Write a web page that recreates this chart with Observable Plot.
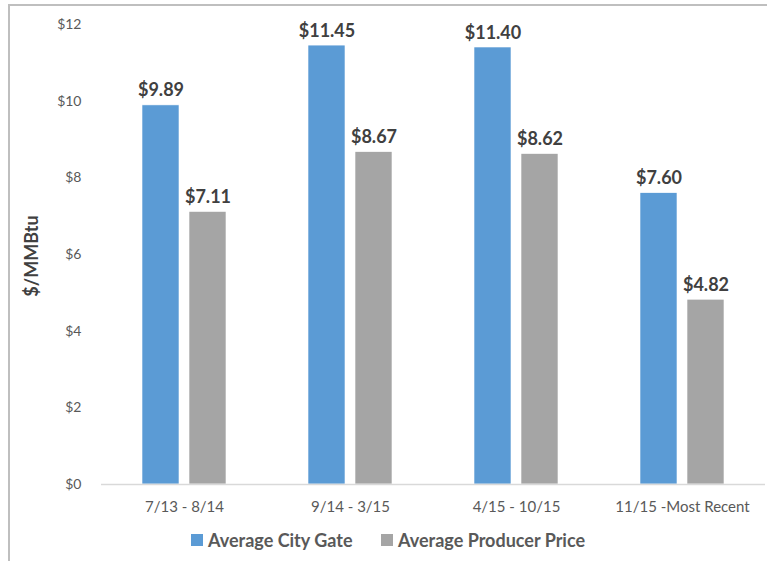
<!DOCTYPE html>
<html>
<head>
<meta charset="utf-8">
<script src="https://cdn.jsdelivr.net/npm/d3@7"></script>
<script src="https://cdn.jsdelivr.net/npm/@observablehq/plot@0.6"></script>
<style>
  html, body { margin: 0; padding: 0; background: #fff; }
  body { width: 767px; height: 561px; position: relative; overflow: hidden; font-family: Lato, "Liberation Sans", sans-serif; }
  #frame { position: absolute; left: 8px; top: 4px; width: 800px; height: 600px; border-left: 2px solid #bfbfbf; border-top: 2px solid #bfbfbf; pointer-events: none; }
  #chart { position: absolute; left: 0; top: 0; }
  #ylabel { position: absolute; left: 31px; top: 256px; transform: translate(-50%, -50%) rotate(-90deg); font-weight: bold; font-size: 18px; color: #404040; white-space: nowrap; }
  #legend { position: absolute; left: 0; top: 525px; width: 767px; height: 36px; }
  .item { position: absolute; top: 4px; display: flex; align-items: center; font-weight: bold; font-size: 18px; color: #595959; }
  .sw { width: 12px; height: 12px; margin-right: 5px; }
</style>
</head>
<body>
<div id="chart"></div>
<div id="ylabel">$/MMBtu</div>
<div id="legend"></div>
<div id="frame"></div>
<script>
const categories = ["7/13 - 8/14", "9/14 - 3/15", "4/15 - 10/15", "11/15 -Most Recent"];
const seriesNames = ["Average City Gate", "Average Producer Price"];
const cityGate = [9.89, 11.45, 11.40, 7.60];
const producerPrice = [7.11, 8.67, 8.62, 4.82];
const yTicks = [0, 2, 4, 6, 8, 10, 12];
const colors = ["#5b9bd5", "#a5a5a5"];

const data = [];
categories.forEach((c, i) => {
  data.push({category: c, series: seriesNames[0], value: cityGate[i]});
  data.push({category: c, series: seriesNames[1], value: producerPrice[i]});
});

const chart = Plot.plot({
  width: 767,
  height: 525,
  marginLeft: 100,
  marginRight: 2,
  marginTop: 24,
  marginBottom: 41,
  style: {fontFamily: "Lato, 'Liberation Sans', sans-serif", background: "transparent"},
  fx: {domain: categories, padding: 0, label: null},
  x: {domain: seriesNames, paddingInner: 0.213, paddingOuter: 0.872, axis: null},
  y: {domain: [0, 12], ticks: yTicks, label: null},
  color: {domain: seriesNames, range: colors},
  marks: [
    Plot.axisY({ticks: yTicks, tickSize: 0, tickPadding: 20, tickFormat: d => "$" + d, fontSize: 14, fill: "#595959", label: null}),
    Plot.axisFx({anchor: "bottom", tickSize: 0, tickPadding: 17, fontSize: 15, fill: "#595959", label: null}),
    Plot.barY(data, {fx: "category", x: "series", y: "value", fill: "series", stroke: "#ffffff", strokeWidth: 0.6}),
    Plot.ruleY([0], {stroke: "#d9d9d9", strokeWidth: 1.5}),
    Plot.text(data, {fx: "category", x: "series", y: "value", text: d => "$" + d.value.toFixed(2), lineAnchor: "bottom", dy: -9, fontWeight: "bold", fontSize: 18, fill: "#404040"})
  ]
});
document.getElementById("chart").appendChild(chart);

const legend = document.getElementById("legend");
const lefts = [191, 381];
seriesNames.forEach((s, i) => {
  const item = document.createElement("div");
  item.className = "item";
  item.style.left = lefts[i] + "px";
  const sw = document.createElement("div");
  sw.className = "sw";
  sw.style.background = colors[i];
  const t = document.createElement("span");
  t.textContent = s;
  item.appendChild(sw);
  item.appendChild(t);
  legend.appendChild(item);
});
</script>
</body>
</html>
